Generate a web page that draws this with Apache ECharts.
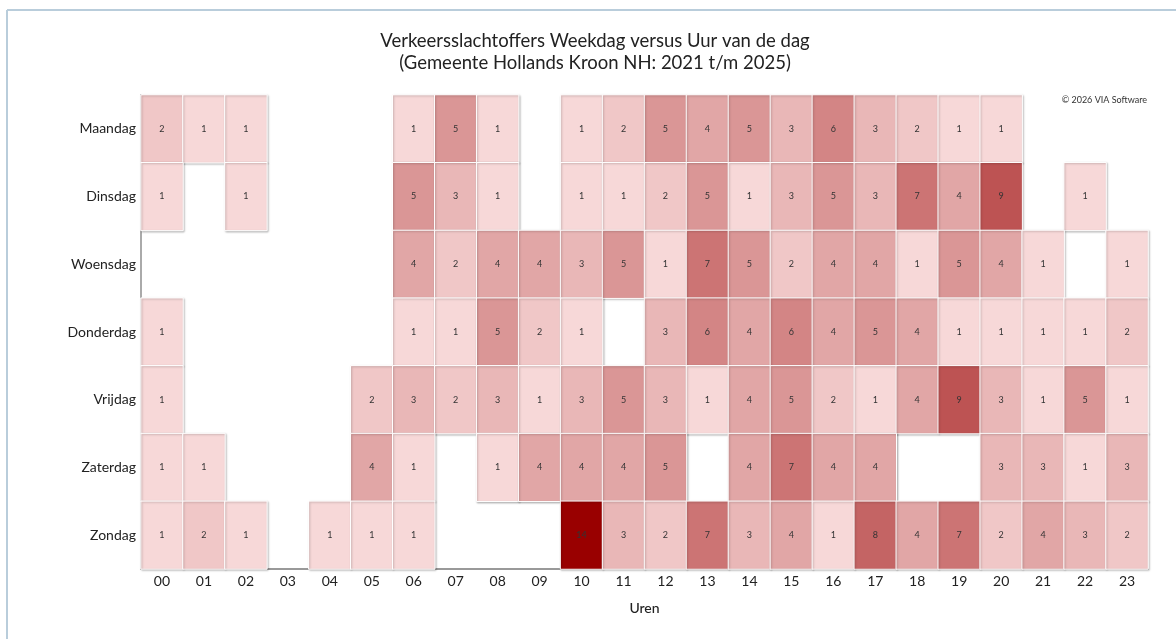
<!DOCTYPE html>
<html>
<head>
<meta charset="utf-8">
<script src="https://cdn.jsdelivr.net/npm/echarts@6/dist/echarts.min.js"></script>
<style>
html,body{margin:0;padding:0;background:#fff;}
#chart{width:1176px;height:639px;}
</style>
</head>
<body>
<div id="chart"></div>
<script>
const hours = ['00','01','02','03','04','05','06','07','08','09','10','11','12','13','14','15','16','17','18','19','20','21','22','23'];
const days = ['Maandag','Dinsdag','Woensdag','Donderdag','Vrijdag','Zaterdag','Zondag'];
// values per day, per hour (null = no cell)
const maandag   = [2,1,1,null,null,null,1,5,1,null,1,2,5,4,5,3,6,3,2,1,1,null,null,null];
const dinsdag   = [1,null,1,null,null,null,5,3,1,null,1,1,2,5,1,3,5,3,7,4,9,null,1,null];
const woensdag  = [null,null,null,null,null,null,4,2,4,4,3,5,1,7,5,2,4,4,1,5,4,1,null,1];
const donderdag = [1,null,null,null,null,null,1,1,5,2,1,null,3,6,4,6,4,5,4,1,1,1,1,2];
const vrijdag   = [1,null,null,null,null,2,3,2,3,1,3,5,3,1,4,5,2,1,4,9,3,1,5,1];
const zaterdag  = [1,1,null,null,null,4,1,null,1,4,4,4,5,null,4,7,4,4,null,null,3,3,1,3];
const zondag    = [1,2,1,null,1,1,1,null,null,null,14,3,2,7,3,4,1,8,4,7,2,4,3,2];
const rows = [maandag,dinsdag,woensdag,donderdag,vrijdag,zaterdag,zondag];

const data = [];
rows.forEach((r, d) => r.forEach((v, h) => { if (v !== null) data.push([h, d, v]); }));

const chart = echarts.init(document.getElementById('chart'));
const FONT = 'Lato, "Open Sans", sans-serif';
chart.setOption({
  animation: false,
  textStyle: { fontFamily: FONT },
  title: {
    text: 'Verkeersslachtoffers Weekdag versus Uur van de dag\n(Gemeente Hollands Kroon NH: 2021 t/m 2025)',
    left: 590, top: 25, textAlign: 'center',
    textStyle: { fontFamily: FONT, fontSize: 18.5, fontWeight: 'normal', color: '#222', lineHeight: 22 }
  },
  graphic: [
    { type: 'line', shape: { x1: 7, y1: 10, x2: 1176, y2: 10 }, style: { stroke: '#b9cddb', lineWidth: 2 } },
    { type: 'line', shape: { x1: 7, y1: 10, x2: 7, y2: 639 }, style: { stroke: '#b9cddb', lineWidth: 2 } },
    { type: 'text', right: 29, top: 96, style: { text: '© 2026 VIA Software', font: '9px ' + FONT, fill: '#333' } }
  ],
  grid: { left: 141, right: 28, top: 95, bottom: 70 },
  xAxis: {
    type: 'category', data: hours,
    name: 'Uren', nameLocation: 'middle', nameGap: 32,
    nameTextStyle: { fontSize: 14, color: '#222', fontWeight: 500 },
    axisLine: { lineStyle: { color: '#999', width: 2 } },
    axisTick: { show: false },
    axisLabel: { fontSize: 14, color: '#222', margin: 5 },
    splitArea: { show: false }
  },
  yAxis: {
    type: 'category', data: days, inverse: true,
    axisLine: { lineStyle: { color: '#aaa', width: 2 } },
    axisTick: { show: false },
    axisLabel: { fontSize: 14, color: '#222', margin: 5 }
  },
  visualMap: {
    show: false, type: 'continuous', min: 1, max: 14, dimension: 2,
    inRange: { color: ['#f7d8d8', '#990000'] }
  },
  series: [{
    type: 'heatmap',
    data: data,
    label: { show: true, fontSize: 9, color: '#333' },
    itemStyle: {
      borderColor: '#fff', borderWidth: 1,
      shadowColor: 'rgba(0,0,0,0.25)', shadowBlur: 2, shadowOffsetX: 1, shadowOffsetY: 1
    },
    emphasis: { disabled: true }
  }]
});
</script>
</body>
</html>
